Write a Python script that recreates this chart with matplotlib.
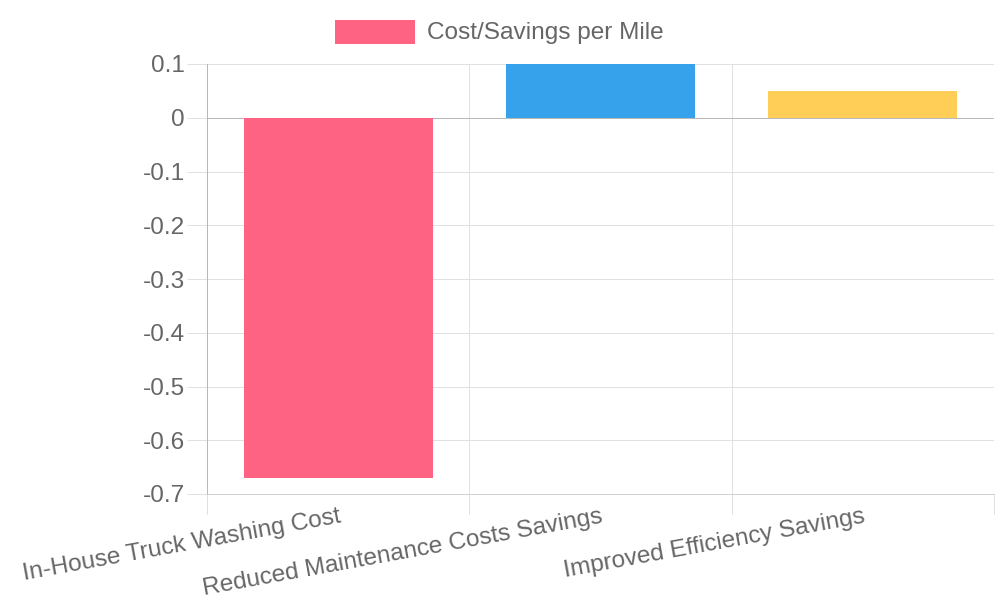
import matplotlib
matplotlib.use("Agg")
import matplotlib.pyplot as plt
from matplotlib.patches import Rectangle

categories = ["In-House Truck Washing Cost", "Reduced Maintenance Costs Savings", "Improved Efficiency Savings"]
values = [-0.67, 0.1, 0.05]
colors = ["#FF6384", "#36A2EB", "#FFCE56"]
series_label = "Cost/Savings per Mile"
y_ticks = [0.1, 0, -0.1, -0.2, -0.3, -0.4, -0.5, -0.6, -0.7]
y_tick_labels = ["0.1", "0", "-0.1", "-0.2", "-0.3", "-0.4", "-0.5", "-0.6", "-0.7"]

W, H = 1000, 600
PX = 0.72  # points per pixel at dpi 100
plt.rcParams['font.family'] = ['Liberation Sans', 'DejaVu Sans']
TXT = "#666666"
GRID = "#e0e0e0"
AXIS = "#b8b8b8"
FS = 24.4 * PX

fig = plt.figure(figsize=(W / 100, H / 100), dpi=100)
L, R, T, B = 207, 994, 64, 494
ax = fig.add_axes([L / W, 1 - B / H, (R - L) / W, (B - T) / H])

x = list(range(len(categories)))
ax.bar(x, values, width=0.72, color=colors, zorder=3)
ax.set_xlim(-0.5, len(categories) - 0.5)
ax.set_ylim(-0.7, 0.1)

# y axis
ax.set_yticks(y_ticks)
ax.set_yticklabels(y_tick_labels)
ax.tick_params(axis='y', length=20 * PX, width=1 * PX, color=GRID, pad=2 * PX,
               labelsize=FS, labelcolor=TXT)
ax.yaxis.grid(True, color=GRID, linewidth=1 * PX, zorder=0)

# x axis: labels at centres, grid at boundaries
ax.set_xticks(x)
ax.set_xticklabels(categories, rotation=10.3, ha='right', va='top', rotation_mode='anchor')
ax.set_xticks([i - 0.5 for i in range(len(categories) + 1)], minor=True)
ax.tick_params(axis='x', which='major', length=0, pad=12 * PX, labelsize=FS, labelcolor=TXT)
ax.tick_params(axis='x', which='minor', length=20 * PX, width=1 * PX, color=GRID)
ax.xaxis.grid(True, which='minor', color=GRID, linewidth=1 * PX, zorder=0)
ax.xaxis.grid(False, which='major')
ax.set_axisbelow(True)

for s in ['top', 'right']:
    ax.spines[s].set_visible(False)
ax.spines['left'].set_color(AXIS)
ax.spines['left'].set_linewidth(1 * PX)
ax.spines['bottom'].set_color("#d0d0d0")
ax.spines['bottom'].set_linewidth(1 * PX)
ax.axhline(0, color=AXIS, linewidth=1 * PX, zorder=2)

# legend
fig.patches.append(Rectangle((335 / W, 1 - 44 / H), 80 / W, 24 / H, transform=fig.transFigure,
                             facecolor=colors[0], edgecolor='none'))
fig.text(427 / W, 1 - 33.5 / H, series_label, fontsize=FS, color=TXT, ha='left', va='center')

fig.savefig("out.png", dpi=100)
